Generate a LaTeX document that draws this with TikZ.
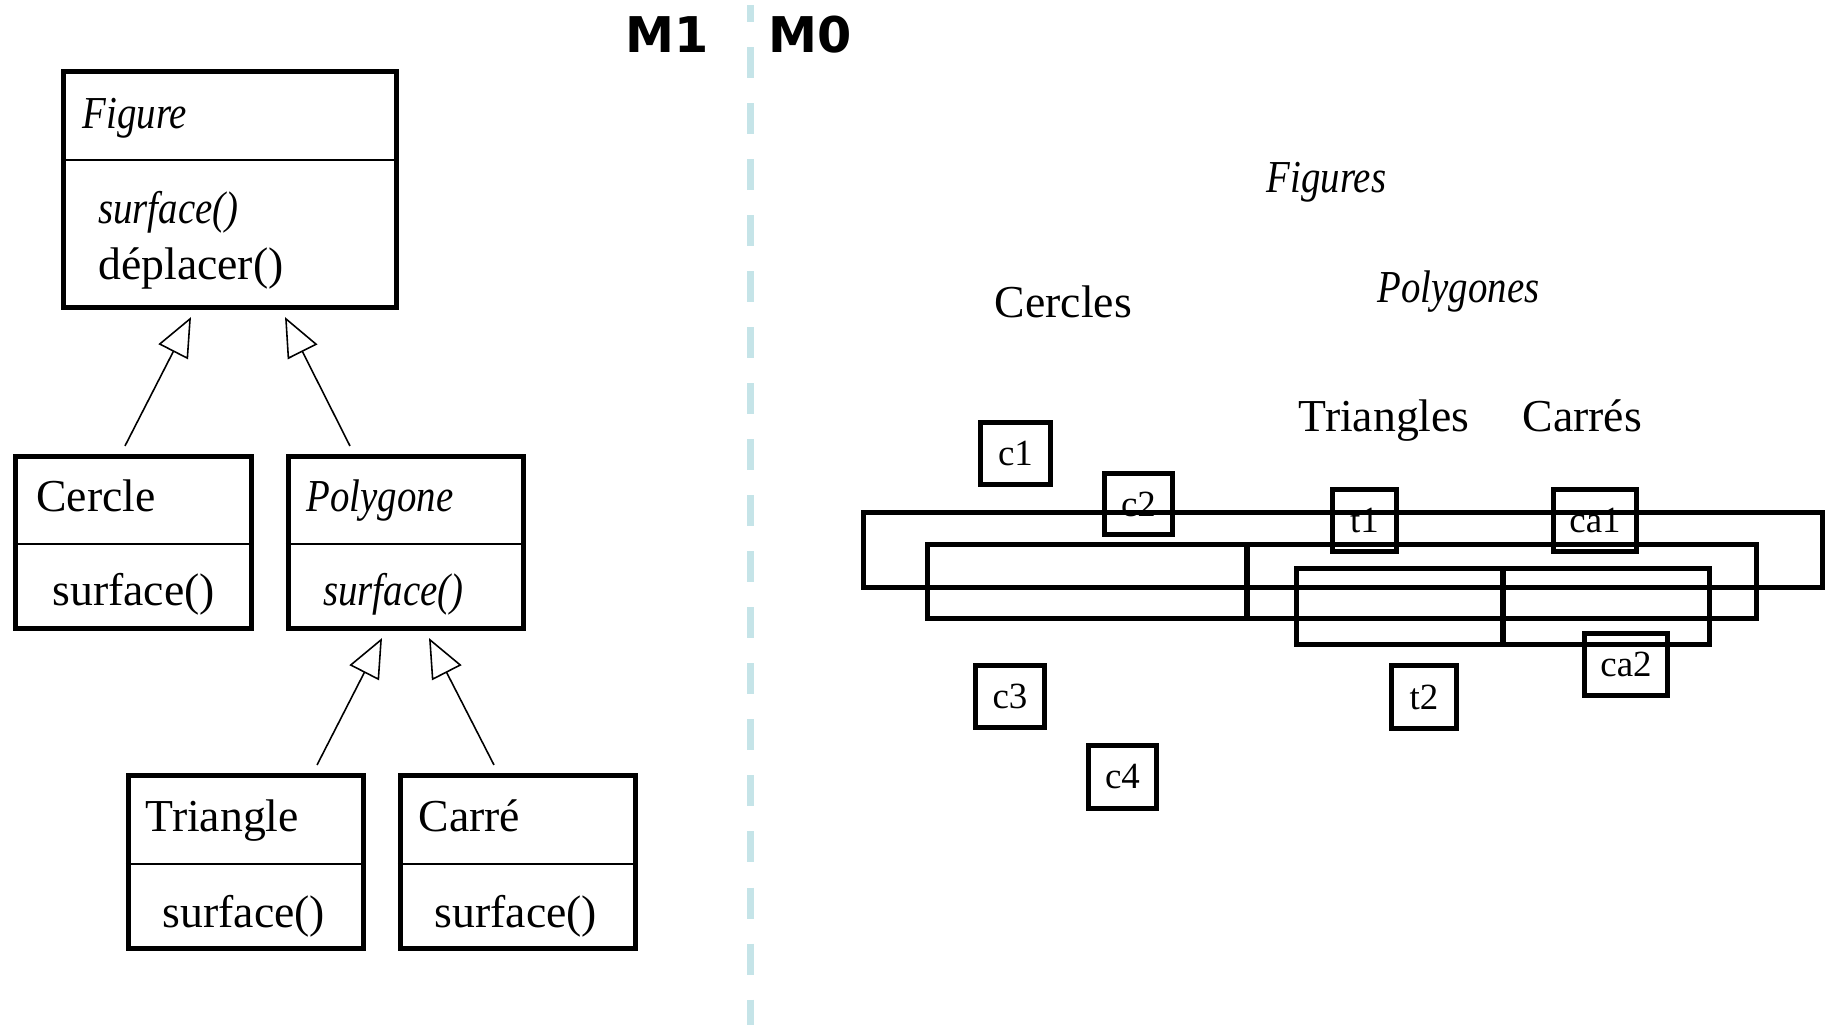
\documentclass[tikz,border=0pt]{standalone}
\usepackage{fontspec}
\setmainfont{Liberation Serif}[ItalicFeatures={FakeStretch=0.85}]
\newfontfamily\levelfont{DejaVu Sans}
\usetikzlibrary{arrows.meta}
\definecolor{levelblue}{RGB}{197,228,232}
\begin{document}
\begin{tikzpicture}[x=0.01cm, y=-0.01cm,
  every node/.style={font=\fontsize{13}{15}\selectfont, inner sep=0pt},
  classbox/.style={draw, line width=0.05cm},
  sepline/.style={line width=0.45pt},
  inherit/.style={-{Triangle[open,length=0.39cm,width=0.33cm]}, line width=0.45pt},
  setbox/.style={draw, line width=0.05cm},
  objbox/.style={draw, line width=0.05cm, font=\fontsize{10.5}{12}\selectfont},
  level/.style={font=\levelfont\bfseries\fontsize{14}{16}\selectfont, anchor=base west}]
\useasboundingbox (0,0) rectangle (1829,1025);
% level separator
\draw[levelblue, line width=0.075cm, dash pattern=on 0.31cm off 0.25cm, dash phase=0.14cm] (750.5,5) -- (750.5,1025);
\node[level] (m1) at (625,53) {M1};
\node[level] (m0) at (768,53) {M0};
% M1: classes
\node[classbox, minimum width=3.33cm, minimum height=2.36cm] (figure) at (230,189.5) {};
\draw[sepline] ([yshift=-0.91cm]figure.north west) -- ([yshift=-0.91cm]figure.north east);
\node[anchor=base west] (figname) at (82,128.6) {\textit{Figure}};
\node[anchor=base west] (figop1) at (97.6,224) {\textit{surface()}};
\node[anchor=base west] (figop2) at (97.6,280) {déplacer()};
\node[classbox, minimum width=2.36cm, minimum height=1.72cm] (cercle) at (133.5,542.5) {};
\draw[sepline] ([yshift=-0.9cm]cercle.north west) -- ([yshift=-0.9cm]cercle.north east);
\node[anchor=base west] (cername) at (35.6,512) {Cercle};
\node[anchor=base west] (cerop) at (51.7,606) {surface()};
\node[classbox, minimum width=2.35cm, minimum height=1.72cm] (polygone) at (406,542.5) {};
\draw[sepline] ([yshift=-0.9cm]polygone.north west) -- ([yshift=-0.9cm]polygone.north east);
\node[anchor=base west] (polname) at (306,512) {\textit{Polygone}};
\node[anchor=base west] (polop) at (322.6,606) {\textit{surface()}};
\node[classbox, minimum width=2.35cm, minimum height=1.73cm] (triangle) at (246,862) {};
\draw[sepline] ([yshift=-0.91cm]triangle.north west) -- ([yshift=-0.91cm]triangle.north east);
\node[anchor=base west] (triname) at (145,832) {Triangle};
\node[anchor=base west] (triop) at (162,928) {surface()};
\node[classbox, minimum width=2.35cm, minimum height=1.73cm] (carre) at (518,862) {};
\draw[sepline] ([yshift=-0.91cm]carre.north west) -- ([yshift=-0.91cm]carre.north east);
\node[anchor=base west] (carname) at (418,832) {Carré};
\node[anchor=base west] (carop) at (434,928) {surface()};
% inheritance
\draw[inherit] ([xshift=-0.085cm,yshift=0.08cm]cercle.north) -- ([xshift=-0.39cm,yshift=-0.07cm]figure.south);
\draw[inherit] ([xshift=-0.56cm,yshift=0.08cm]polygone.north) -- ([xshift=0.55cm,yshift=-0.07cm]figure.south);
\draw[inherit] ([xshift=0.71cm,yshift=0.08cm]triangle.north) -- ([xshift=-0.24cm,yshift=-0.07cm]polygone.south);
\draw[inherit] ([xshift=-0.24cm,yshift=0.08cm]carre.north) -- ([xshift=0.23cm,yshift=-0.07cm]polygone.south);
% M0: sets
\node[anchor=base west] (figures) at (1266,192.7) {\textit{Figures}};
\node[anchor=base west] (cercles) at (994,318) {Cercles};
\node[anchor=base west] (polygones) at (1377,303) {\textit{Polygones}};
\node[anchor=base west] (triangles) at (1298,432) {Triangles};
\node[anchor=base west] (carres) at (1522,432) {Carrés};
\node[setbox, minimum width=9.59cm, minimum height=0.75cm] (figset) at (1343,550) {};
\node[setbox, minimum width=3.19cm, minimum height=0.73cm] (cerset) at (1087.5,581.5) {};
\node[setbox, minimum width=5.09cm, minimum height=0.73cm] (polset) at (1501.5,581.5) {};
\node[setbox, minimum width=2.06cm, minimum height=0.75cm] (triset) at (1400,606.5) {};
\node[setbox, minimum width=2.06cm, minimum height=0.75cm] (carset) at (1606,606.5) {};
% M0: objects
\node[objbox, minimum width=0.70cm, minimum height=0.62cm] (c1) at (1015.5,453.5) {c1};
\node[objbox, minimum width=0.68cm, minimum height=0.61cm] (c2) at (1138.5,504) {c2};
\node[objbox, minimum width=0.64cm, minimum height=0.62cm] (t1) at (1364.5,520.5) {t1};
\node[objbox, minimum width=0.83cm, minimum height=0.62cm] (ca1) at (1595,520.5) {ca1};
\node[objbox, minimum width=0.69cm, minimum height=0.62cm] (c3) at (1010,696.5) {c3};
\node[objbox, minimum width=0.68cm, minimum height=0.63cm] (c4) at (1122.5,777) {c4};
\node[objbox, minimum width=0.65cm, minimum height=0.63cm] (t2) at (1424,697) {t2};
\node[objbox, minimum width=0.83cm, minimum height=0.62cm] (ca2) at (1626,664.5) {ca2};
\end{tikzpicture}
\end{document}
